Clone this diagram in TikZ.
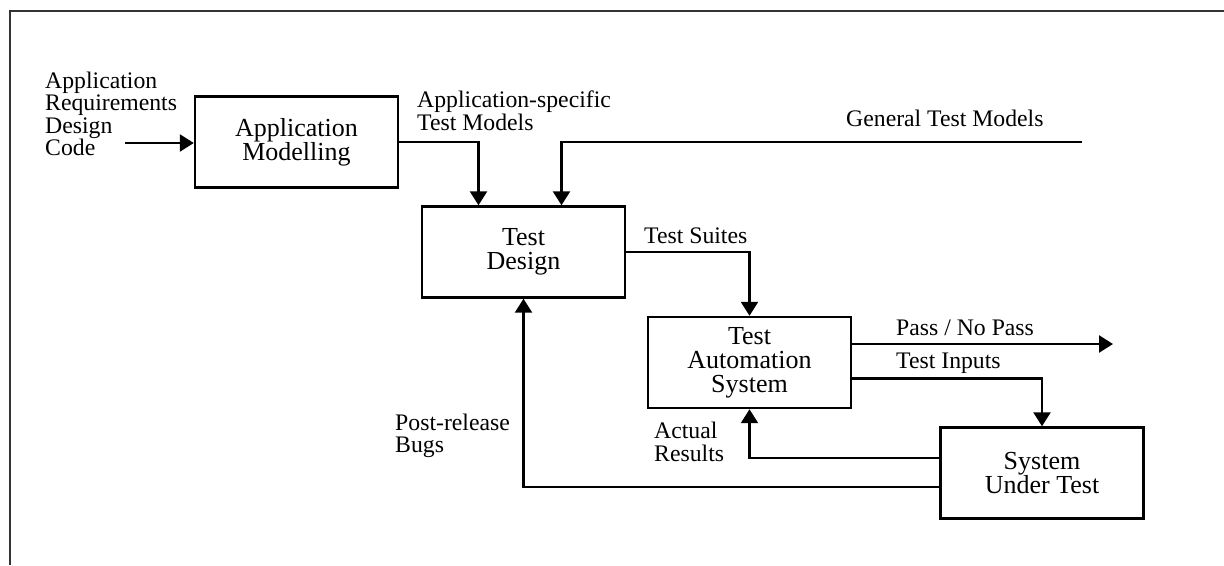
\documentclass[tikz,border=0pt]{standalone}
\usepackage{fontspec}
\setmainfont{Liberation Serif}
\usetikzlibrary{arrows.meta,calc}

\begin{document}
\begin{tikzpicture}[x=0.02cm, y=-0.02cm, line width=1.4pt,
        font=\fontsize{13.5}{12.8}\selectfont,
        blk/.style={draw, minimum width=4.06cm, minimum height=1.82cm, align=center, inner sep=0pt,
            font=\fontsize{14.8}{13.6}\selectfont},
        lbl/.style={anchor=west, align=left, inner sep=0pt},
        arr/.style={-{Triangle[length=0.28cm, width=0.34cm]}}
    ]
                \useasboundingbox (0,0) rectangle (1224,565);
                \draw[line width=1.2pt, black!80] (1224,11) -- (10,11) -- (10,565);

                \begin{scope}[every node/.style={blk}]
                    \node (am) at (296.5,142) {Application\\Modelling};
                    \node (td) at (523.5,252) {Test\\Design};
                    \node (tas) at (749.5,362.5) {Test\\Automation\\System};
                    \node (sut) at (1042,473) {System\\Under Test};
                \end{scope}

                \node[lbl] (inp) at (44,114) {Application\\Requirements\\Design\\Code};
                \node[lbl] (astm) at (416,111) {Application-specific\\Test Models};
                \node[lbl] (gtm) at (845,118) {General Test Models};
                \node[lbl] (ts) at (643,236) {Test Suites};
                \node[lbl] (pnp) at (895,328) {Pass / No Pass};
                \node[lbl] (ti) at (895,363) {Test Inputs};
                \node[lbl] (ar) at (653,442) {Actual\\Results};
                \node[lbl] (prb) at (394,436) {Post-release\\Bugs};

                \coordinate (in) at (125,143);
                \coordinate (gen) at (1082,142);
                \coordinate (pass) at (1113,344);

                \draw[arr] (in) -- (in -| am.west);
                \draw[arr] (am.east) -| ($(td.north)+(-45,0)$);
                \draw[arr] (gen) -| ($(td.north)+(38,0)$);
                \draw[arr] (td.east) -| (tas.north);
                \draw[arr] (tas.east |- pass) -- (pass);
                \draw[arr] ($(tas.east)+(0,16)$) -| (sut.north);
                \draw[arr] ($(sut.west)+(0,-15)$) -| (tas.south);
                \draw[arr] ($(sut.west)+(0,14)$) -| (td.south);
            \end{tikzpicture}
\end{document}
